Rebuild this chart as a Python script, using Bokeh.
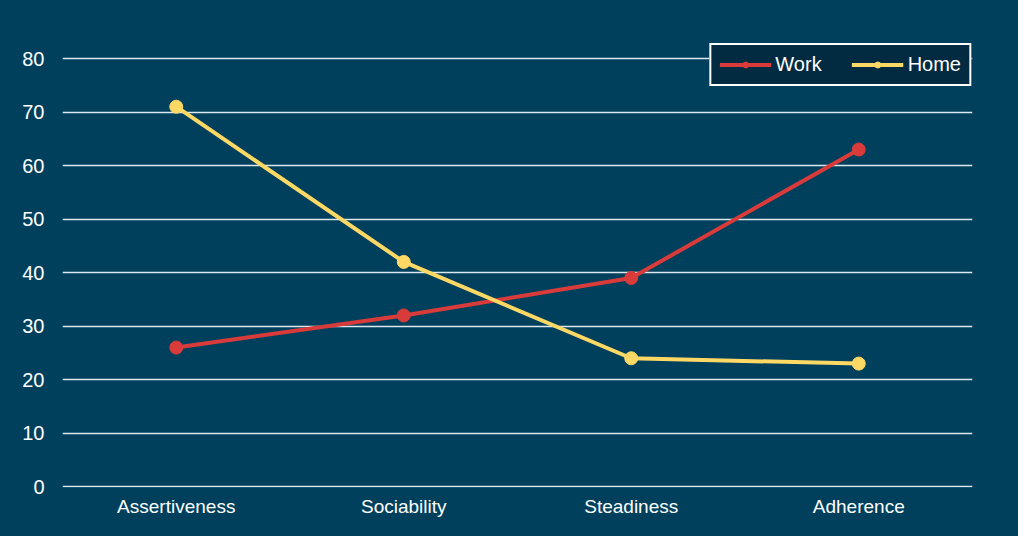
from bokeh.plotting import figure
from bokeh.embed import file_html
from bokeh.resources import INLINE

# Data
categories = ["Assertiveness", "Sociability", "Steadiness", "Adherence"]
work = [26, 32, 39, 63]
home = [71, 42, 24, 23]
y_ticks = [0, 10, 20, 30, 40, 50, 60, 70, 80]

bg = "#00405c"
font = "Liberation Sans"

# the frame reaches a bit above 80 so the legend can sit there
p = figure(
    x_range=categories,
    y_range=(-0.15, 83),
    width=1010,
    height=528,
    output_backend="svg",
    toolbar_location=None,
    min_border_left=62,
    min_border_right=38,
    min_border_top=42,
    min_border_bottom=41,
)
p.background_fill_color = bg
p.border_fill_color = bg
p.outline_line_color = None

# lines + markers
p.line(categories, work, line_color="#d93a3a", line_width=4, legend_label="Work")
p.scatter(categories, work, size=13, fill_color="#d93a3a", line_color="#d93a3a", legend_label="Work")
p.line(categories, home, line_color="#fdd865", line_width=4, legend_label="Home")
p.scatter(categories, home, size=13, fill_color="#fdd865", line_color="#fdd865", legend_label="Home")

# grid
p.xgrid.visible = False
p.ygrid.grid_line_color = "#dce8f0"
p.ygrid.grid_line_width = 1.5
p.yaxis.ticker = y_ticks

# axes
for ax in (p.xaxis, p.yaxis):
    ax.axis_line_color = None
    ax.major_tick_line_color = None
    ax.minor_tick_line_color = None
    ax.major_tick_out = 0
    ax.major_label_text_color = "#ffffff"
    ax.major_label_text_font = font
p.xaxis.major_label_standoff = 8
p.yaxis.major_label_standoff = 18
p.xaxis.major_label_text_font_size = "19px"
p.yaxis.major_label_text_font_size = "20px"

# legend
leg = p.legend[0]
leg.orientation = "horizontal"
leg.location = "top_right"
leg.background_fill_color = "#022b42"
leg.background_fill_alpha = 1
leg.border_line_color = "#ffffff"
leg.border_line_alpha = 1
leg.border_line_width = 2
leg.label_text_color = "#ffffff"
leg.label_text_font = font
leg.label_text_font_size = "20px"
leg.glyph_width = 52
leg.glyph_height = 15
leg.label_height = 15
leg.label_standoff = 4
leg.spacing = 30
leg.padding = 8
leg.margin = 1

html = file_html(p, INLINE)
html = html.replace("<body>", '<body style="background:%s">' % bg)
open("out.html", "w").write(html)
